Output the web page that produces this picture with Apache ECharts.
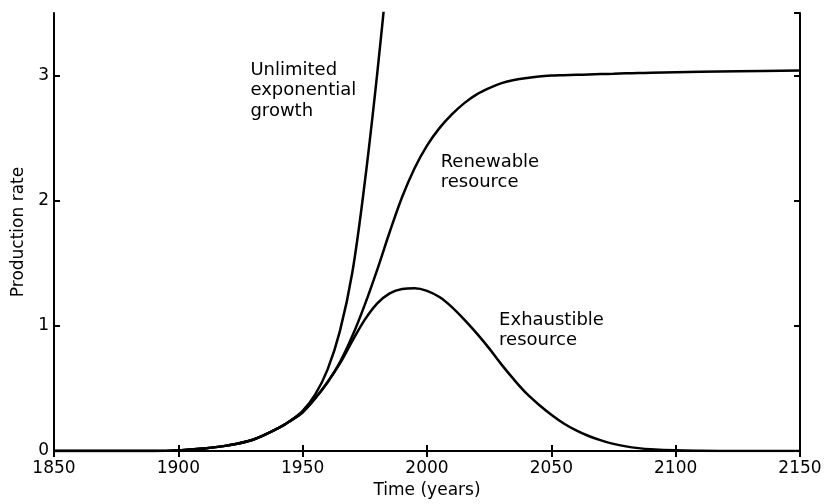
<!DOCTYPE html>
<html>
<head>
<meta charset="utf-8">
<script src="https://cdn.jsdelivr.net/npm/echarts@6/dist/echarts.min.js"></script>
<style>
  html, body { margin: 0; padding: 0; background: #fff; }
  #chart { width: 827px; height: 504px; }
</style>
</head>
<body>
<div id="chart"></div>
<script>
// 数据
const years = [1850, 1870, 1890, 1900, 1910, 1920, 1930, 1940, 1945, 1950, 1955, 1960, 1965, 1970, 1975,
  1980, 1985, 1990, 1995, 2000, 2005, 2010, 2015, 2020, 2025, 2030, 2035, 2040, 2045, 2050, 2055,
  2060, 2065, 2070, 2075, 2080, 2085, 2090, 2100, 2110, 2125, 2150];

const exhaustible = [0, 0, 0, 0.005, 0.02, 0.045, 0.09, 0.18, 0.24, 0.31, 0.42, 0.55, 0.70, 0.88, 1.05,
  1.18, 1.26, 1.295, 1.30, 1.28, 1.23, 1.15, 1.05, 0.94, 0.82, 0.69, 0.57, 0.46, 0.37, 0.29, 0.22,
  0.165, 0.12, 0.085, 0.057, 0.037, 0.023, 0.014, 0.005, 0.002, 0, 0];

const renewable = [0, 0, 0, 0.005, 0.02, 0.045, 0.09, 0.18, 0.24, 0.31, 0.42, 0.55, 0.71, 0.92, 1.17,
  1.45, 1.75, 2.03, 2.26, 2.44, 2.58, 2.69, 2.78, 2.85, 2.90, 2.94, 2.965, 2.98, 2.993, 3.0, 3.003,
  3.006, 3.009, 3.012, 3.015, 3.018, 3.02, 3.022, 3.026, 3.03, 3.035, 3.04];

const expYears = [1850, 1870, 1890, 1900, 1910, 1920, 1930, 1940, 1945, 1950, 1955, 1960, 1965, 1970, 1975, 1980, 1985];
const exponential = [0, 0, 0, 0.005, 0.02, 0.045, 0.09, 0.18, 0.24, 0.32, 0.45, 0.65, 0.96, 1.43, 2.15, 3.02, 4.0];

// 标注文字, [year, value] of the top-left corner
const notes = [
  { text: 'Unlimited\nexponential\ngrowth', at: [1929, 3.125] },
  { text: 'Renewable\nresource', at: [2005.5, 2.39] },
  { text: 'Exhaustible\nresource', at: [2029, 1.13] }
];

const font = 'DejaVu Sans';
const ink = '#000';

function pairs(xs, ys) {
  return xs.map((x, i) => [x, ys[i]]);
}

function line(name, data) {
  return {
    name: name,
    type: 'line',
    data: data,
    showSymbol: false,
    smooth: 0.35,
    clip: true,
    lineStyle: { color: ink, width: 2.5 },
    z: 3
  };
}

const axisLine = { show: true, lineStyle: { color: ink, width: 2 } };
const tickIn = { show: true, inside: true, length: 6, lineStyle: { color: ink, width: 2 } };
const plain = v => String(v);

let option = {
  animation: false,
  backgroundColor: '#fff',
  textStyle: { fontFamily: font, color: ink },
  grid: { left: 54, right: 27, top: 13, bottom: 53, containLabel: false, outerBoundsMode: 'none' },
  xAxis: [
    {
      type: 'value', min: 1850, max: 2150, interval: 50, position: 'bottom',
      name: 'Time (years)', nameLocation: 'middle', nameGap: 31,
      nameTextStyle: { fontFamily: font, fontSize: 17, color: ink },
      axisLine: axisLine, axisTick: tickIn, splitLine: { show: false },
      axisLabel: { margin: 9, fontFamily: font, fontSize: 17, color: ink, formatter: plain }
    },
    {
      type: 'value', min: 1850, max: 2150, interval: 50, position: 'top',
      axisLine: axisLine, axisTick: tickIn, splitLine: { show: false },
      axisLabel: { show: false }
    }
  ],
  yAxis: [
    {
      type: 'value', min: 0, max: 3.5, interval: 1, position: 'left',
      name: 'Production rate', nameLocation: 'middle', nameGap: 22,
      nameTextStyle: { fontFamily: font, fontSize: 17, color: ink },
      axisLine: axisLine, axisTick: tickIn, splitLine: { show: false },
      axisLabel: { margin: 5, fontFamily: font, fontSize: 17, color: ink, showMaxLabel: false, formatter: plain }
    },
    {
      type: 'value', min: 0, max: 3.5, interval: 1, position: 'right',
      axisLine: axisLine, axisTick: tickIn, splitLine: { show: false },
      axisLabel: { show: false }
    }
  ],
  series: [
    line('Unlimited exponential growth', pairs(expYears, exponential)),
    line('Renewable resource', pairs(years, renewable)),
    line('Exhaustible resource', pairs(years, exhaustible))
  ]
};

let myChart = echarts.init(document.getElementById('chart'), null, { renderer: 'canvas' });
myChart.setOption(option);

// 把标注放到数据坐标上
myChart.setOption({
  graphic: notes.map(n => {
    const p = myChart.convertToPixel({ xAxisIndex: 0, yAxisIndex: 0 }, n.at);
    return {
      type: 'text',
      left: p[0],
      top: p[1],
      style: { text: n.text, fontFamily: font, fontSize: 18, lineHeight: 20.5, fill: ink }
    };
  })
});
</script>
</body>
</html>
